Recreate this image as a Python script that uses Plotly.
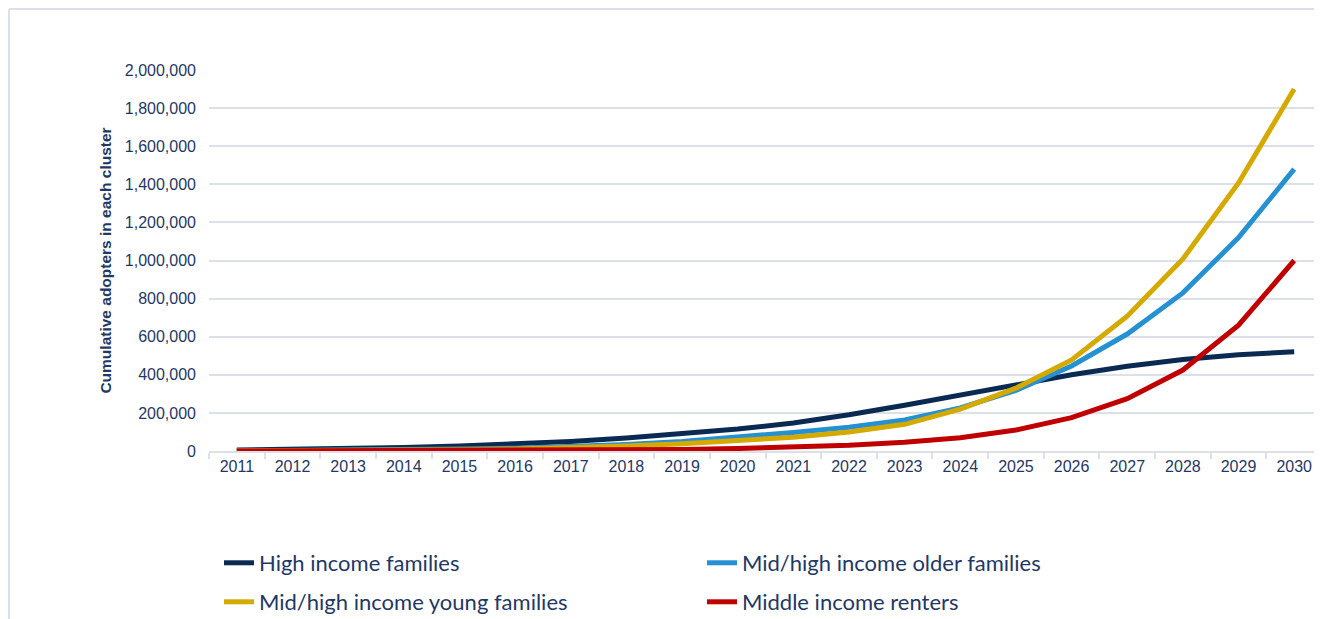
import plotly.graph_objects as go

years = [str(y) for y in range(2011, 2031)]

high_income_families = [5000, 8000, 12000, 18000, 26000, 36000, 50000, 68000, 90000, 115000,
                        147000, 190000, 240000, 292000, 345000, 400000, 445000, 480000, 505000, 521000]
midhigh_older_families = [1000, 2000, 4000, 6000, 10000, 15000, 23000, 34000, 50000, 72000,
                          97000, 125000, 163000, 226000, 318000, 446000, 614000, 830000, 1120000, 1480000]
midhigh_young_families = [500, 1000, 2000, 4000, 7000, 11000, 17000, 26000, 38000, 52000,
                          72000, 100000, 140000, 220000, 330000, 478000, 708000, 1008000, 1407000, 1900000]
middle_income_renters = [200, 400, 700, 1000, 1500, 2500, 3500, 5000, 8000, 13000,
                         20000, 30000, 46000, 70000, 110000, 175000, 275000, 425000, 661000, 1000000]

series = [
    ("High income families", high_income_families, "#0B2A52", "legend"),
    ("Mid/high income older families", midhigh_older_families, "#2591D3", "legend"),
    ("Mid/high income young families", midhigh_young_families, "#D4A900", "legend2"),
    ("Middle income renters", middle_income_renters, "#C00000", "legend2"),
]

text_color = "#1F3864"
grid_color = "#DCE1E9"

fig = go.Figure()
for name, vals, color, leg in series:
    fig.add_trace(go.Scatter(
        x=years, y=vals, name=name, mode="lines",
        line=dict(color=color, width=5), legend=leg,
    ))

plot_w = 1314 - 201
legend_font = dict(family="Lato, sans-serif", size=22, color=text_color)
common_legend = dict(orientation="h", xanchor="left", yanchor="top",
                     entrywidth=438, font=legend_font, itemwidth=30,
                     bgcolor="rgba(0,0,0,0)")

fig.update_layout(
    width=1314, height=640,
    margin=dict(l=201, r=0, t=62, b=197),
    paper_bgcolor="white", plot_bgcolor="white",
    font=dict(family="Liberation Sans, Arial, sans-serif", color=text_color, size=16),
    showlegend=True,
    legend=dict(x=10 / plot_w, y=-0.2388, **common_legend),
    legend2=dict(x=10 / plot_w, y=-0.3412, **common_legend),
    xaxis=dict(
        type="category",
        showgrid=False,
        showline=True, linecolor=grid_color, linewidth=2,
        ticks="outside", tickson="boundaries", ticklen=6, tickcolor=grid_color, tickwidth=2,
        tickfont=dict(size=16, color=text_color),
        range=[-0.5, 19.5],
    ),
    yaxis=dict(
        range=[0, 2000000],
        tickvals=[i * 200000 for i in range(11)],
        tickformat=",d",
        showgrid=True, gridcolor=grid_color, gridwidth=2,
        zeroline=False,
        ticks="", ticklabelstandoff=12,
        tickfont=dict(size=16, color=text_color),
        title=dict(text="<b>Cumulative adopters in each cluster</b>",
                   font=dict(size=15.5, color=text_color), standoff=9),
    ),
    shapes=[
        dict(type="line", xref="paper", yref="paper",
             x0=(1 - 201) / plot_w, x1=(1 - 201) / plot_w, y0=-0.6, y1=1 + 61 / 381,
             line=dict(color=grid_color, width=2), layer="below"),
        dict(type="line", xref="paper", yref="paper",
             x0=(1 - 201) / plot_w, x1=1.05, y0=1 + 61 / 381, y1=1 + 61 / 381,
             line=dict(color=grid_color, width=2), layer="below"),
    ],
)

fig.write_html(
    "out.html",
    post_script="document.documentElement.style.overflow='hidden';document.body.style.overflow='hidden';",
)
